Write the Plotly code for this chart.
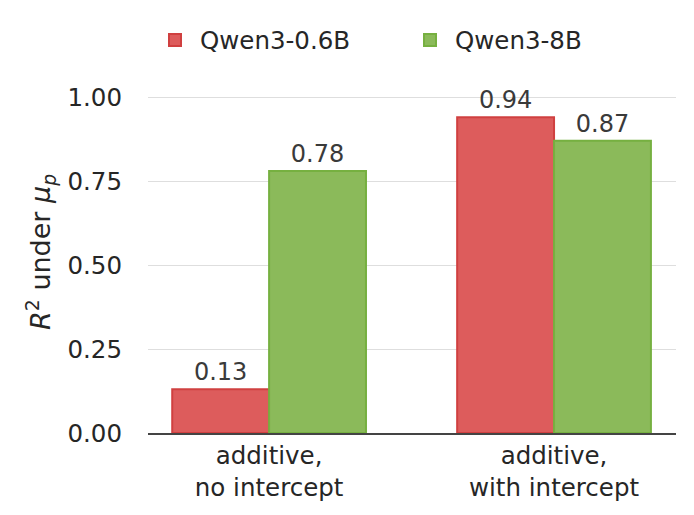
import plotly.graph_objects as go

categories = ["additive,<br>no intercept", "additive,<br>with intercept"]
series_names = ["Qwen3-0.6B", "Qwen3-8B"]
qwen06 = [0.13, 0.94]
qwen8 = [0.78, 0.87]
tick_vals = [0.0, 0.25, 0.5, 0.75, 1.0]
tick_text = ["0.00", "0.25", "0.50", "0.75", "1.00"]
y_title = "<i>R</i><sup>2</sup> under <i>μ<sub>p</sub></i>"

fills = ["rgb(221,92,92)", "rgb(139,186,90)"]
edges = ["rgb(208,64,64)", "rgb(118,176,64)"]
legend_ids = ["legend", "legend2"]

fig = go.Figure()
for name, vals, fc, ec, lg in zip(series_names, [qwen06, qwen8], fills, edges, legend_ids):
    fig.add_trace(go.Bar(
        x=[0, 1], y=vals, name=name, legend=lg,
        marker=dict(color=fc, line=dict(color=ec, width=2)),
        text=[f"{v:.2f}" for v in vals], textposition="outside",
        textfont=dict(family="DejaVu Sans", size=24, color="#3a3a3a"),
        cliponaxis=False,
    ))

PLOT_L, PLOT_W, PLOT_H = 148, 528, 433
legend_common = dict(orientation="h", xref="paper", yref="paper",
                     xanchor="left", y=(PLOT_H - 40) / PLOT_H, yanchor="middle",
                     font=dict(size=24.5, color="#262626"), itemwidth=40,
                     bgcolor="rgba(0,0,0,0)")

fig.update_layout(
    width=694, height=515,
    margin=dict(l=148, r=18, t=0, b=82),
    paper_bgcolor="white", plot_bgcolor="white",
    barmode="group", bargap=0.32, bargroupgap=0,
    font=dict(family="DejaVu Sans", size=24.5, color="#262626"),
    showlegend=True,
    legend=dict(x=(150 - PLOT_L) / PLOT_W, **legend_common),
    legend2=dict(x=(405 - PLOT_L) / PLOT_W, **legend_common),
    xaxis=dict(
        range=[-0.425, 1.428], tickvals=[0, 1], ticktext=categories,
        showline=True, linecolor="#444", linewidth=2, ticks="",
        tickfont=dict(size=24.5, color="#262626"), showgrid=False, zeroline=False,
    ),
    yaxis=dict(
        range=[0, 433 / 336], tickvals=tick_vals, ticktext=tick_text,
        showgrid=True, gridcolor="#dedede", gridwidth=1.2, zeroline=False,
        showline=False, ticks="", ticklen=0, ticklabelstandoff=25,
        tickfont=dict(size=24.5, color="#262626"),
    ),
    annotations=[dict(
        text=y_title, textangle=-90, showarrow=False,
        xref="paper", yref="paper",
        x=(40 - PLOT_L) / PLOT_W, y=(PLOT_H - 252) / PLOT_H,
        xanchor="center", yanchor="middle",
        font=dict(size=27, color="#262626", family="DejaVu Sans"),
    )],
)

fig.write_html("out.html")
